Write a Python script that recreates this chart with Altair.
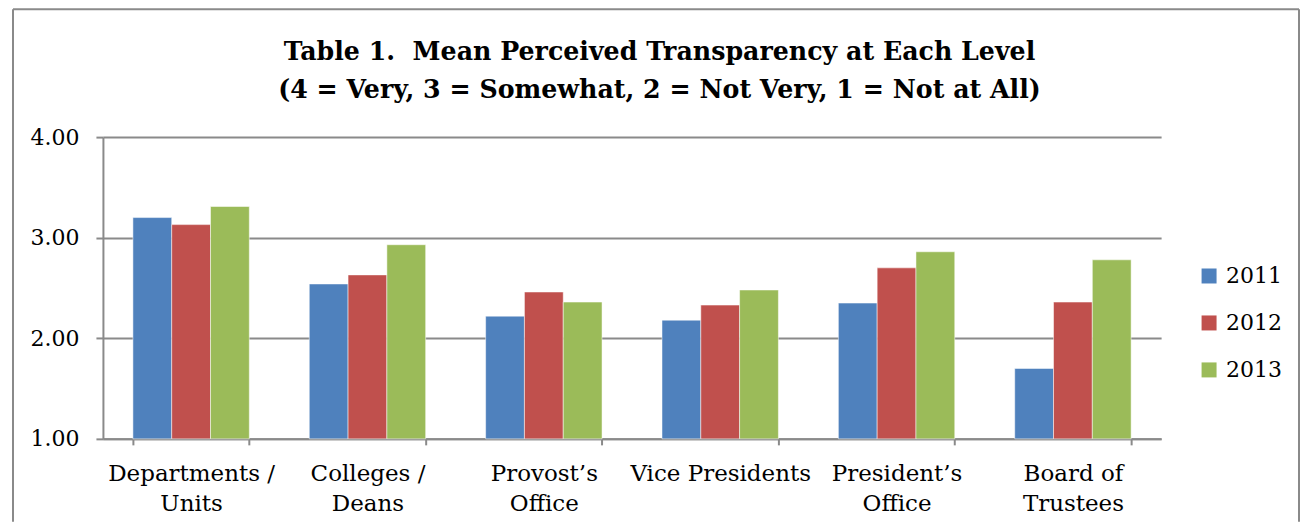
import altair as alt
import pandas as pd

categories = ["Departments /\nUnits", "Colleges /\nDeans", "Provost\u2019s\nOffice",
              "Vice Presidents", "President\u2019s\nOffice", "Board of\nTrustees"]
years = ["2011", "2012", "2013"]
v2011 = [3.20, 2.54, 2.22, 2.18, 2.35, 1.70]
v2012 = [3.13, 2.63, 2.46, 2.33, 2.70, 2.36]
v2013 = [3.31, 2.93, 2.36, 2.48, 2.86, 2.78]
colors = ["#4F81BD", "#C0504D", "#9BBB59"]
y_ticks = [1, 2, 3, 4]
title_line1 = "Table 1.\u00a0 Mean Perceived Transparency at Each Level"
title_line2 = "(4 = Very, 3 = Somewhat, 2 = Not Very, 1 = Not at All)"

rows = []
for yr, vals in zip(years, [v2011, v2012, v2013]):
    for c, v in zip(categories, vals):
        rows.append({"Level": c, "Year": yr, "Mean": v})
df = pd.DataFrame(rows)

FONT = "DejaVu Serif"
GRAY = "#8a8a8a"

bars = alt.Chart(df).mark_bar(stroke="white", strokeWidth=1, strokeOpacity=0.5).encode(
    x=alt.X("Level:N", sort=categories, title=None,
            scale=alt.Scale(paddingInner=0.34, paddingOuter=0.17),
            axis=alt.Axis(labelAngle=0, labelFont=FONT, labelFontSize=23, labelColor="black",
                          labelExpr="split(datum.label, '\\n')", labelLineHeight=30,
                          labelLimit=0, labelPadding=18, tickSize=6, tickBand="extent",
                          tickColor=GRAY, tickWidth=2, domainColor=GRAY, domainWidth=2,
                          grid=False)),
    xOffset=alt.XOffset("Year:N", sort=years, scale=alt.Scale(paddingInner=0, paddingOuter=0)),
    y=alt.Y("Mean:Q", title=None, scale=alt.Scale(domain=[1, 4], nice=False, zero=False),
            axis=alt.Axis(values=y_ticks, format=".2f", labelFont=FONT, labelFontSize=22,
                          labelColor="black", labelPadding=17, tickSize=7, tickColor=GRAY,
                          tickWidth=2, domainColor=GRAY, domainWidth=2, gridColor=GRAY,
                          gridWidth=2)),
    y2=alt.datum(1),
    color=alt.Color("Year:N", sort=years, scale=alt.Scale(domain=years, range=colors),
                    legend=alt.Legend(title=None, orient="none", legendX=1096, legendY=128,
                                      symbolType="square", symbolSize=225, symbolStrokeWidth=0,
                                      labelFont=FONT, labelFontSize=22, labelColor="black",
                                      labelOffset=6, rowPadding=25, padding=0)),
)

one = pd.DataFrame({"k": [0]})
fl = alt.Chart(one).mark_rule(color=GRAY, strokeWidth=2).encode(
    x=alt.value(-90), y=alt.value(-128), y2=alt.value(385))
ft = alt.Chart(one).mark_rule(color=GRAY, strokeWidth=2).encode(
    x=alt.value(-90), x2=alt.value(1197), y=alt.value(-128))
fr = alt.Chart(one).mark_rule(color=GRAY, strokeWidth=2).encode(
    x=alt.value(1197), y=alt.value(-128), y2=alt.value(385))

t1 = alt.Chart(one).mark_text(font=FONT, fontSize=25.3, fontWeight="bold", color="black",
                              align="center", baseline="alphabetic").encode(
    x=alt.value(557), y=alt.value(-77), text=alt.value(title_line1))
t2 = alt.Chart(one).mark_text(font=FONT, fontSize=25.3, fontWeight="bold", color="black",
                              align="center", baseline="alphabetic").encode(
    x=alt.value(557), y=alt.value(-39), text=alt.value(title_line2))

chart = alt.layer(fl, ft, fr, t1, t2, bars).properties(
    width=1059, height=302,
    padding={"left": 4, "top": 0, "right": 0, "bottom": 0},
).configure_view(stroke=None)

chart.save("out.html", embed_options={"renderer": "svg", "actions": False})
